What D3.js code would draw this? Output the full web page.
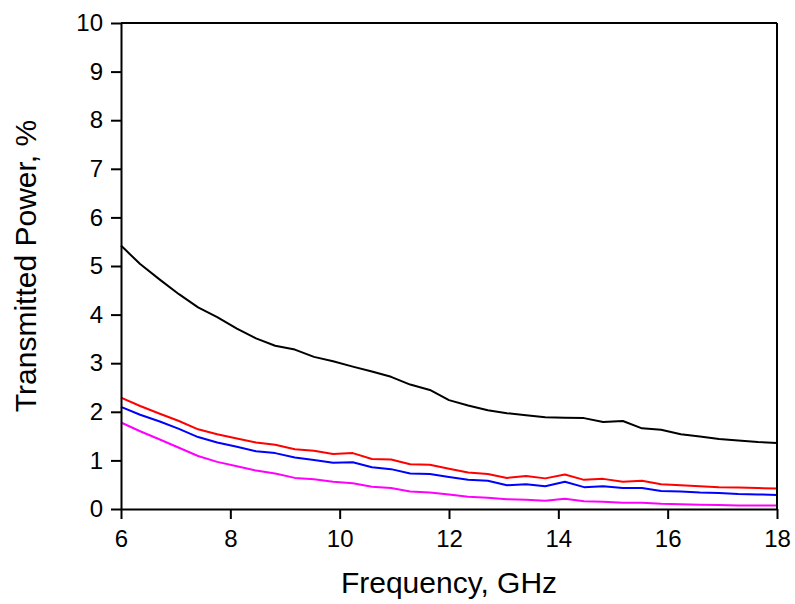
<!DOCTYPE html>
<html>
<head>
<meta charset="utf-8">
<script src="https://cdn.jsdelivr.net/npm/d3@7"></script>
<style>
  body { margin: 0; background: #fff; }
  text { font-family: "Liberation Sans", Arial, sans-serif; fill: #000; }
</style>
</head>
<body>
<div id="chart"></div>
<script>
// frequency samples, GHz
const freq = [6.00, 6.35, 6.71, 7.06, 7.41, 7.76, 8.12, 8.47, 8.82, 9.18, 9.53, 9.88,
  10.24, 10.59, 10.94, 11.29, 11.65, 12.00, 12.35, 12.71, 13.06, 13.41, 13.76, 14.12,
  14.47, 14.82, 15.18, 15.53, 15.88, 16.24, 16.59, 16.94, 17.29, 17.65, 18.00];

// transmitted power, %
const blackSeries = [5.42, 5.04, 4.72, 4.42, 4.15, 3.95, 3.71, 3.51, 3.36, 3.28, 3.13, 3.04,
  2.93, 2.83, 2.72, 2.56, 2.45, 2.24, 2.13, 2.03, 1.97, 1.93, 1.89, 1.88,
  1.87, 1.79, 1.81, 1.66, 1.63, 1.54, 1.49, 1.44, 1.41, 1.38, 1.36];
const redSeries = [2.29, 2.12, 1.96, 1.81, 1.64, 1.54, 1.45, 1.37, 1.32, 1.23, 1.20, 1.13,
  1.15, 1.03, 1.02, 0.92, 0.91, 0.83, 0.75, 0.72, 0.64, 0.68, 0.63, 0.71,
  0.60, 0.62, 0.56, 0.58, 0.51, 0.49, 0.47, 0.45, 0.44, 0.43, 0.42];
const blueSeries = [2.10, 1.94, 1.80, 1.65, 1.48, 1.37, 1.28, 1.19, 1.15, 1.06, 1.01, 0.95,
  0.96, 0.86, 0.82, 0.73, 0.72, 0.66, 0.60, 0.58, 0.49, 0.51, 0.47, 0.56,
  0.45, 0.47, 0.43, 0.43, 0.37, 0.36, 0.34, 0.33, 0.31, 0.30, 0.29];
const magentaSeries = [1.78, 1.60, 1.43, 1.26, 1.09, 0.97, 0.88, 0.79, 0.73, 0.64, 0.61, 0.56,
  0.53, 0.46, 0.43, 0.36, 0.34, 0.30, 0.25, 0.23, 0.20, 0.19, 0.17, 0.21,
  0.16, 0.15, 0.13, 0.13, 0.11, 0.10, 0.09, 0.08, 0.07, 0.07, 0.07];

const xTicks = [6, 8, 10, 12, 14, 16, 18];
const yTicks = [0, 1, 2, 3, 4, 5, 6, 7, 8, 9, 10];

const series = [
  { values: blackSeries, color: "#000000" },
  { values: redSeries, color: "#ff0000" },
  { values: blueSeries, color: "#0000ff" },
  { values: magentaSeries, color: "#ff00ff" }
];

const fullWidth = 795;
const fullHeight = 604;
const margin = { top: 23, right: 18, bottom: 95, left: 121 };
const width = fullWidth - margin.left - margin.right;
const height = fullHeight - margin.top - margin.bottom;

const svg = d3.select("#chart")
  .append("svg")
  .attr("width", fullWidth)
  .attr("height", fullHeight);

const g = svg.append("g")
  .attr("transform", `translate(${margin.left},${margin.top})`);

const x = d3.scaleLinear().domain([6, 18]).range([0, width]);
const y = d3.scaleLinear().domain([0, 10]).range([height, 0]);

// === Data lines ===
const line = d3.line()
  .x((d, i) => x(freq[i]))
  .y(d => y(d));

g.selectAll("path.series")
  .data(series)
  .enter()
  .append("path")
  .attr("class", "series")
  .attr("d", d => line(d.values))
  .attr("fill", "none")
  .attr("stroke", d => d.color)
  .attr("stroke-width", 2)
  .attr("stroke-linejoin", "round");

// === Frame (top and right, no ticks) ===
g.append("line")
  .attr("x1", 0).attr("x2", width)
  .attr("y1", 0).attr("y2", 0)
  .attr("stroke", "#000").attr("stroke-width", 2);
g.append("line")
  .attr("x1", width).attr("x2", width)
  .attr("y1", 0).attr("y2", height)
  .attr("stroke", "#000").attr("stroke-width", 2);

// === Axes ===
const xAxis = g.append("g")
  .attr("transform", `translate(0,${height})`)
  .call(d3.axisBottom(x).tickValues(xTicks).tickSize(10).tickSizeOuter(0).tickPadding(11));

const yAxis = g.append("g")
  .call(d3.axisLeft(y).tickValues(yTicks).tickSize(10).tickSizeOuter(0).tickPadding(8));

[xAxis, yAxis].forEach(ax => {
  ax.select(".domain").attr("stroke", "#000").attr("stroke-width", 2);
  ax.selectAll(".tick line").attr("stroke", "#000").attr("stroke-width", 2);
  ax.selectAll(".tick text")
    .style("font-size", "24px")
    .style("font-family", "'Liberation Sans', Arial, sans-serif")
    .attr("fill", "#000");
});

// === Axis titles ===
svg.append("text")
  .attr("x", margin.left + width / 2)
  .attr("y", 593)
  .attr("text-anchor", "middle")
  .style("font-size", "30px")
  .text("Frequency, GHz");

svg.append("text")
  .attr("transform", `translate(36,${margin.top + height / 2}) rotate(-90)`)
  .attr("text-anchor", "middle")
  .style("font-size", "30px")
  .text("Transmitted Power, %");
</script>
</body>
</html>
